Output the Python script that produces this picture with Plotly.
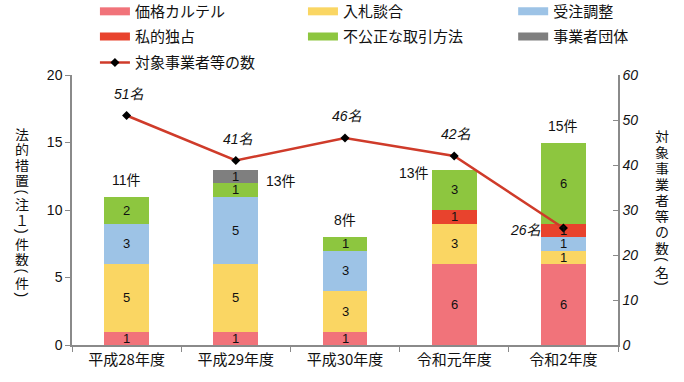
import plotly.graph_objects as go

categories = ["平成28年度", "平成29年度", "平成30年度", "令和元年度", "令和2年度"]
price_cartel = [1, 1, 1, 6, 6]
bid_rigging = [5, 5, 3, 3, 1]
order_adjust = [3, 5, 3, 0, 1]
private_monopoly = [0, 0, 0, 1, 1]
unfair_trade = [2, 1, 1, 3, 6]
trade_assoc = [0, 1, 0, 0, 0]
companies = [51, 41, 46, 42, 26]

series = [
    ("価格カルテル", price_cartel, "#F1737A"),
    ("入札談合", bid_rigging, "#FAD663"),
    ("受注調整", order_adjust, "#9DC3E6"),
    ("私的独占", private_monopoly, "#E8432D"),
    ("不公正な取引方法", unfair_trade, "#8DC63F"),
    ("事業者団体", trade_assoc, "#7F7F7F"),
]
total_pos = ["above", "right", "above", "left", "above"]
line_label_pos = ["above", "above", "above", "above", "left"]

CJK = "Noto Sans CJK JP"
LAT = "Liberation Sans, Noto Sans CJK JP, sans-serif"
fig = go.Figure()

for name, vals, col in series:
    fig.add_trace(go.Bar(x=categories, y=vals, name=name, marker_color=col,
                         marker_line_width=0, width=0.41, showlegend=False,
                         hoverinfo="skip"))

# legend layout: 3 columns x 3 rows, one small legend per entry
col_x = [0.042, 0.423, 0.808]
row_y = [1.296, 1.2026, 1.1063]
legend_ids = ["legend", "legend2", "legend3", "legend4", "legend5", "legend6", "legend7"]

for k, (name, vals, col) in enumerate(series):
    fig.add_trace(go.Scatter(x=[None], y=[None], mode="lines", name=name,
                             legend=legend_ids[k], line=dict(color=col, width=8)))

fig.add_trace(go.Scatter(x=categories, y=companies, yaxis="y2", name="対象事業者等の数",
                         legend=legend_ids[6],
                         mode="lines+markers",
                         line=dict(color="#CF3B2A", width=2.5),
                         marker=dict(symbol="diamond", color="black", size=7)))

annotations = []
# segment labels
cum = [0] * len(categories)
for name, vals, col in series:
    for i, v in enumerate(vals):
        if v > 0:
            annotations.append(dict(x=categories[i], y=cum[i] + v / 2, text=str(v),
                                    showarrow=False,
                                    font=dict(family=LAT, size=13, color="#111")))
        cum[i] += v
# totals
for i, t in enumerate(cum):
    a = dict(x=categories[i], y=t, text=f"{t}件", showarrow=False,
             font=dict(family=LAT, size=14, color="#111"))
    if total_pos[i] == "above":
        a.update(yshift=17)
    elif total_pos[i] == "right":
        a.update(xshift=45, yshift=-11)
    else:
        a.update(xshift=-40, yshift=-3)
    annotations.append(a)
# line labels
for i, c in enumerate(companies):
    a = dict(x=categories[i], y=c, yref="y2", text=f"{c}名", showarrow=False,
             font=dict(family=LAT, size=14, color="#111", style="italic"))
    if line_label_pos[i] == "above":
        a.update(yshift=22, xshift=2)
    else:
        a.update(xshift=-38, yshift=-2)
    annotations.append(a)

left_title = "法的措置（注１）件数（件）"
right_title = "対象事業者等の数（名）"
PARENS = {"（": "(", "）": ")"}

def vertical_title(s, xpix, ytop, full_step):
    ypix = ytop
    prev = None
    for ch in s:
        if prev is not None:
            ypix += 12 if (ch in PARENS or prev in PARENS) else full_step
        x = (xpix - 72) / 546
        y = (345 - ypix) / 270
        base = dict(xref="paper", yref="paper", x=x, y=y, xanchor="center",
                    yanchor="middle", showarrow=False)
        if ch in PARENS:
            annotations.append(dict(base, text=PARENS[ch], textangle=90,
                                    font=dict(family=LAT, size=14, color="#111")))
        else:
            annotations.append(dict(base, text=ch, height=15,
                                    font=dict(family=CJK, size=14, color="#111")))
        prev = ch

vertical_title(left_title, 22, 133, 15.5)
vertical_title(right_title, 662, 135, 16)

leg_common = dict(orientation="v", yanchor="top", xanchor="left",
                  font=dict(family=CJK, size=15, color="#111"),
                  itemwidth=30, bgcolor="rgba(0,0,0,0)")
legends = {}
positions = [(0, 0), (1, 0), (2, 0), (0, 1), (1, 1), (2, 1), (0, 2)]
for lid, (c, r) in zip(legend_ids, positions):
    legends[lid] = dict(x=col_x[c], y=row_y[r], **leg_common)

fig.update_layout(
    width=684, height=382,
    margin=dict(l=72, r=66, t=75, b=37, autoexpand=False),
    barmode="stack",
    plot_bgcolor="white", paper_bgcolor="white",
    font=dict(family=LAT, size=13, color="#111"),
    xaxis=dict(showline=True, linecolor="#8a8a8a", linewidth=1.5, ticks="outside",
               tickson="boundaries", ticklen=5, tickcolor="#8a8a8a",
               tickfont=dict(family=CJK, size=15, color="#111")),
    yaxis=dict(range=[0, 20], dtick=5, showline=True, linecolor="#8a8a8a", linewidth=1.5,
               ticks="outside", ticklen=5, tickcolor="#8a8a8a", showgrid=False, zeroline=False,
               tickfont=dict(size=14)),
    yaxis2=dict(range=[0, 60], dtick=10, overlaying="y", side="right", showline=True,
                linecolor="#8a8a8a", linewidth=1.5, ticks="inside", ticklen=5,
                tickcolor="#8a8a8a", showgrid=False, zeroline=False,
                tickfont=dict(size=14, style="italic")),
    annotations=annotations,
    **legends,
)

fig.write_html("out.html", config={"displayModeBar": False},
               post_script="document.body.style.margin='0';")
